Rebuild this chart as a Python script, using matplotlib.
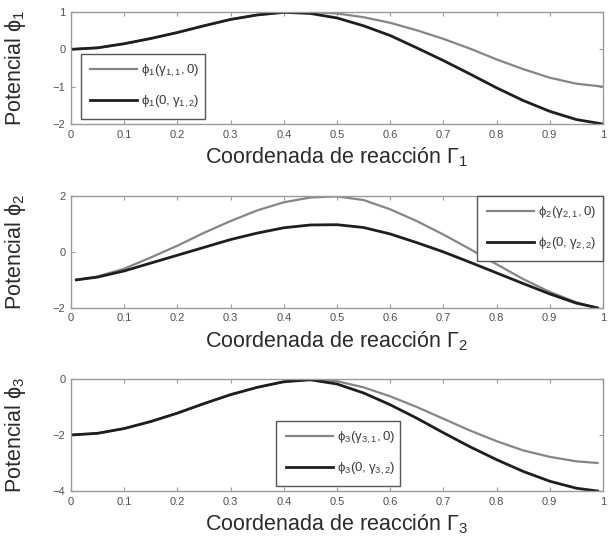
import matplotlib
matplotlib.use("Agg")
import matplotlib.pyplot as plt

plt.rcParams['font.family'] = ['Liberation Sans', 'DejaVu Sans']
plt.rcParams['mathtext.fontset'] = 'dejavusans'
plt.rcParams['mathtext.default'] = 'regular'

# panel 1
x1 = [0.0, 0.05, 0.1, 0.15, 0.2, 0.25, 0.3, 0.35, 0.4, 0.45, 0.5,
      0.55, 0.6, 0.65, 0.7, 0.75, 0.8, 0.85, 0.9, 0.95, 1.0]
phi1_g11 = [0.0, 0.04, 0.15, 0.29, 0.45, 0.63, 0.80, 0.92, 0.99, 1.0, 0.96,
            0.86, 0.71, 0.51, 0.28, 0.02, -0.27, -0.53, -0.76, -0.92, -1.0]
phi1_g12 = [0.0, 0.04, 0.15, 0.29, 0.45, 0.63, 0.80, 0.92, 0.99, 0.96, 0.84,
            0.63, 0.37, 0.04, -0.30, -0.66, -1.03, -1.37, -1.66, -1.88, -2.0]

# panel 2
x2 = [0.01, 0.05, 0.1, 0.15, 0.2, 0.25, 0.3, 0.35, 0.4, 0.45, 0.5,
      0.55, 0.6, 0.65, 0.7, 0.75, 0.8, 0.85, 0.9, 0.95, 0.99]
phi2_g21 = [-1.0, -0.88, -0.6, -0.2, 0.22, 0.68, 1.1, 1.48, 1.77, 1.94, 1.98,
            1.85, 1.52, 1.1, 0.62, 0.1, -0.44, -0.97, -1.43, -1.8, -2.0]
phi2_g22 = [-1.0, -0.9, -0.68, -0.4, -0.12, 0.16, 0.44, 0.67, 0.86, 0.96, 0.97,
            0.87, 0.64, 0.33, 0.0, -0.37, -0.75, -1.13, -1.5, -1.83, -2.0]

# panel 3
x3 = [0.0, 0.05, 0.1, 0.15, 0.2, 0.25, 0.3, 0.35, 0.4, 0.45, 0.5,
      0.55, 0.6, 0.65, 0.7, 0.75, 0.8, 0.85, 0.9, 0.95, 0.99]
phi3_g31 = [-2.0, -1.94, -1.77, -1.52, -1.22, -0.88, -0.56, -0.3, -0.1, -0.01, -0.08,
            -0.3, -0.62, -1.0, -1.42, -1.84, -2.22, -2.55, -2.78, -2.94, -3.0]
phi3_g32 = [-2.0, -1.94, -1.77, -1.52, -1.22, -0.88, -0.56, -0.3, -0.1, -0.03, -0.18,
            -0.5, -0.92, -1.4, -1.92, -2.42, -2.88, -3.3, -3.65, -3.9, -4.0]

xticks = [0, 0.1, 0.2, 0.3, 0.4, 0.5, 0.6, 0.7, 0.8, 0.9, 1]
xticklabels = ['0', '0.1', '0.2', '0.3', '0.4', '0.5', '0.6', '0.7', '0.8', '0.9', '1']

panels = [
    dict(x=x1, a=phi1_g11, b=phi1_g12, k=1, yticks=[-2, -1, 0, 1], ylim=(-2, 1),
         leg=dict(loc='lower left', bbox_to_anchor=(0.018, 0.045, 0.234, 0.5), mode='expand')),
    dict(x=x2, a=phi2_g21, b=phi2_g22, k=2, yticks=[-2, 0, 2], ylim=(-2, 2),
         leg=dict(loc='upper right', bbox_to_anchor=(0.764, 0.5, 0.236, 0.5), mode='expand')),
    dict(x=x3, a=phi3_g31, b=phi3_g32, k=3, yticks=[-4, -2, 0], ylim=(-4, 0),
         leg=dict(loc='lower left', bbox_to_anchor=(0.386, 0.045, 0.233, 0.5), mode='expand')),
]
bottoms = [0.772, 0.434, 0.0974]

fig = plt.figure(figsize=(6.1, 5.44), dpi=100)
for p, bot in zip(panels, bottoms):
    ax = fig.add_axes([0.1164, bot, 0.872, 0.206])
    k = p['k']
    ax.plot(p['x'], p['a'], color='#858585', lw=1.6,
            label=r'$\phi_{%d}(\gamma_{%d,1},0)$' % (k, k))
    ax.plot(p['x'], p['b'], color='#1e1e1e', lw=2.0,
            label=r'$\phi_{%d}(0,\gamma_{%d,2})$' % (k, k))
    ax.set_xlim(0, 1)
    ax.set_ylim(*p['ylim'])
    ax.set_xticks(xticks)
    ax.set_xticklabels(xticklabels)
    ax.set_yticks(p['yticks'])
    ax.tick_params(direction='in', length=3, width=0.8, color='#9a9a9a',
                   labelsize=8, labelcolor='#505050', top=True, right=True, pad=4)
    for s in ax.spines.values():
        s.set_color('#9a9a9a')
        s.set_linewidth(1.0)
    ax.set_xlabel(r'Coordenada de reacción $\Gamma_{%d}$' % k, fontsize=15.5, color='#2a2a2a')
    ax.set_ylabel(r'Potencial $\phi_{%d}$' % k, fontsize=15.5, color='#2a2a2a')
    ax.xaxis.set_label_coords(0.5, -0.19)
    ax.yaxis.set_label_coords(-0.08, 0.5)
    leg = ax.legend(fontsize=9.5, handlelength=3.6, handletextpad=0.3, labelspacing=1.1,
                    borderpad=0.7, borderaxespad=0, fancybox=False, framealpha=1,
                    edgecolor='#555555', **p['leg'])
    leg.get_frame().set_linewidth(1.0)
    for t in leg.get_texts():
        t.set_color('#3a3a3a')

fig.savefig('out.png', dpi=100)
